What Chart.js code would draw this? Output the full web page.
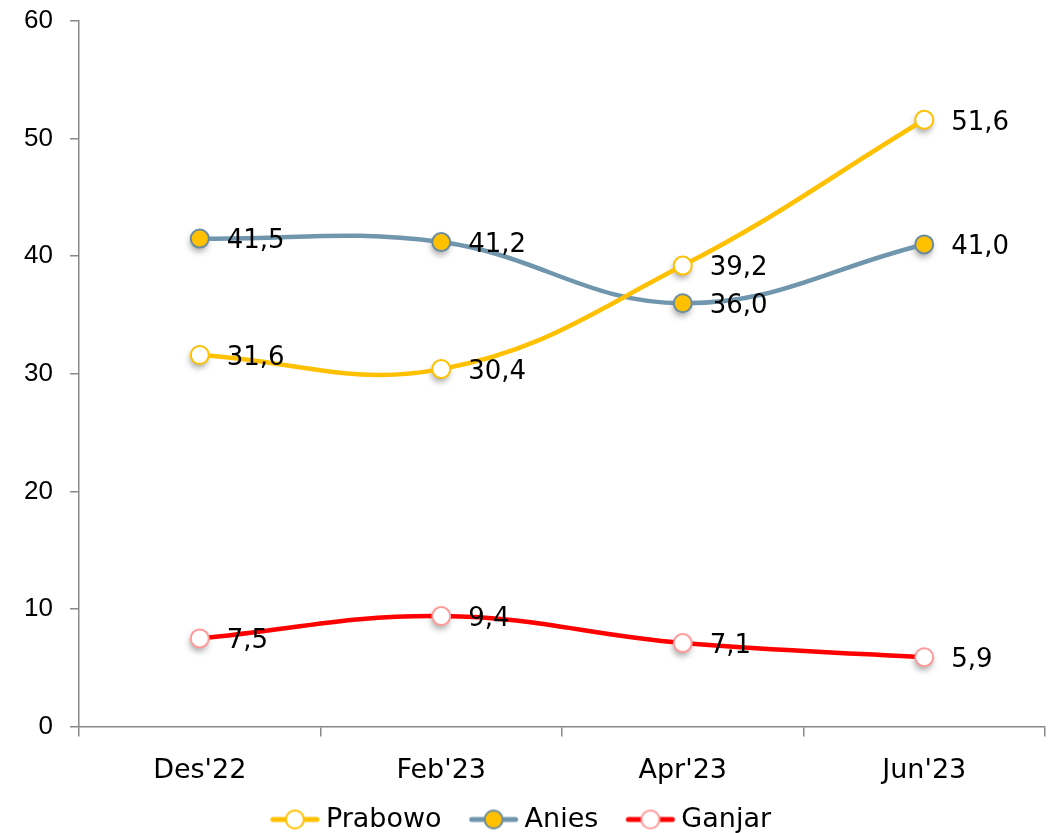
<!DOCTYPE html>
<html>
<head>
<meta charset="utf-8">
<script src="https://cdn.jsdelivr.net/npm/chart.js@4/dist/chart.umd.min.js"></script>
<style>
  html, body { margin: 0; padding: 0; background: #fff; }
  #wrap { width: 1056px; height: 833px; }
</style>
</head>
<body>
<div id="wrap"><canvas id="chart"></canvas></div>
<script>
// Data
const periods = ["Des'22", "Feb'23", "Apr'23", "Jun'23"];
const prabowo = [31.6, 30.4, 39.2, 51.6];
const anies   = [41.5, 41.2, 36.0, 41.0];
const ganjar  = [7.5, 9.4, 7.1, 5.9];
const yTicks  = [0, 10, 20, 30, 40, 50, 60];

const FONT = "'DejaVu Sans', sans-serif";
const YELLOW = '#FFC000';
const STEEL = '#7096AE';
const RED = '#FF0000';

// legend swatch: short line with the marker in the middle.
// image is wider than the legend box, swatch drawn right of centre so it hugs the text
function legendSwatch(lineColor, fill, border) {
  const c = document.createElement('canvas');
  c.width = 100; c.height = 24;
  const g = c.getContext('2d');
  const cx = 66.75;
  g.strokeStyle = lineColor;
  g.lineWidth = 5;
  g.lineCap = 'round';
  g.beginPath(); g.moveTo(cx - 22, 12); g.lineTo(cx + 22, 12); g.stroke();
  g.beginPath(); g.arc(cx, 12, 9, 0, Math.PI * 2);
  g.fillStyle = fill; g.fill();
  g.lineWidth = 2; g.strokeStyle = border; g.stroke();
  return c;
}

// soft shadow under the markers
const markerShadow = {
  id: 'markerShadow',
  beforeDatasetsDraw(chart) {
    const ctx = chart.ctx;
    ctx.save();
    ctx.filter = 'blur(3px)';
    ctx.fillStyle = 'rgba(0,0,0,0.35)';
    chart.data.datasets.forEach((ds, i) => {
      chart.getDatasetMeta(i).data.forEach(p => {
        ctx.beginPath();
        ctx.arc(p.x - 1, p.y + 4, 9, 0, Math.PI * 2);
        ctx.fill();
      });
    });
    ctx.restore();
  }
};

// value labels to the right of each point, decimal comma
const valueLabels = {
  id: 'valueLabels',
  afterDatasetsDraw(chart) {
    const ctx = chart.ctx;
    ctx.save();
    ctx.font = '26px ' + FONT;
    ctx.fillStyle = '#000';
    ctx.textAlign = 'left';
    ctx.textBaseline = 'middle';
    chart.data.datasets.forEach((ds, i) => {
      chart.getDatasetMeta(i).data.forEach((p, j) => {
        ctx.fillText(ds.data[j].toFixed(1).replace('.', ','), p.x + 27, p.y + 3);
      });
    });
    ctx.restore();
  }
};

// the reference legend sits a little left of the canvas centre
const legendNudge = {
  id: 'legendNudge',
  afterLayout(chart) {
    if (chart.legend) chart.legend.right -= 40;
  }
};

const swatches = [
  legendSwatch(YELLOW, '#fff', YELLOW),
  legendSwatch(STEEL, YELLOW, '#6A8C9E'),
  legendSwatch(RED, '#fff', '#FF9A9A')
];

new Chart(document.getElementById('chart'), {
  type: 'line',
  data: {
    labels: periods,
    datasets: [
      { label: 'Prabowo', data: prabowo, borderColor: YELLOW, backgroundColor: '#fff',
        pointBorderColor: YELLOW, pointBackgroundColor: '#fff' },
      { label: 'Anies', data: anies, borderColor: STEEL, backgroundColor: YELLOW,
        pointBorderColor: '#6A8C9E', pointBackgroundColor: YELLOW },
      { label: 'Ganjar', data: ganjar, borderColor: RED, backgroundColor: '#fff',
        pointBorderColor: '#FF9A9A', pointBackgroundColor: '#fff' }
    ].map(d => Object.assign(d, {
      borderWidth: 4.5, tension: 0.4, pointRadius: 9, pointBorderWidth: 2, fill: false
    }))
  },
  options: {
    responsive: true,
    maintainAspectRatio: false,
    animation: false,
    layout: { padding: { top: 21, right: 1, left: 0, bottom: -10 } },
    scales: {
      x: {
        offset: true,
        grid: { offset: true, drawOnChartArea: false, drawTicks: true, tickLength: 10, color: '#888', lineWidth: 1.5 },
        border: { color: '#888', width: 1.5 },
        ticks: { color: '#000', font: { family: FONT, size: 27 }, padding: 18 }
      },
      y: {
        min: 0, max: 60,
        afterFit(s) { s.width = 79; s.paddingTop = 0; s.paddingBottom = 0; },
        afterBuildTicks(s) { s.ticks = yTicks.map(v => ({ value: v })); },
        grid: { drawOnChartArea: false, drawTicks: true, tickLength: 9, color: '#888', lineWidth: 1.5 },
        border: { color: '#888', width: 1.5 },
        ticks: { color: '#000', font: { family: "'Liberation Sans', sans-serif", size: 26 }, padding: 17 }
      }
    },
    plugins: {
      legend: {
        position: 'bottom',
        labels: {
          usePointStyle: true,
          pointStyleWidth: 68.5,
          color: '#000',
          font: { family: FONT, size: 27 },
          padding: 1,
          generateLabels(chart) {
            return chart.data.datasets.map((ds, i) => ({
              text: ds.label,
              pointStyle: swatches[i],
              datasetIndex: i,
              hidden: false,
              lineWidth: 0,
              fontColor: '#000'
            }));
          }
        }
      },
      tooltip: { enabled: false }
    }
  },
  plugins: [markerShadow, valueLabels, legendNudge]
});
</script>
</body>
</html>
